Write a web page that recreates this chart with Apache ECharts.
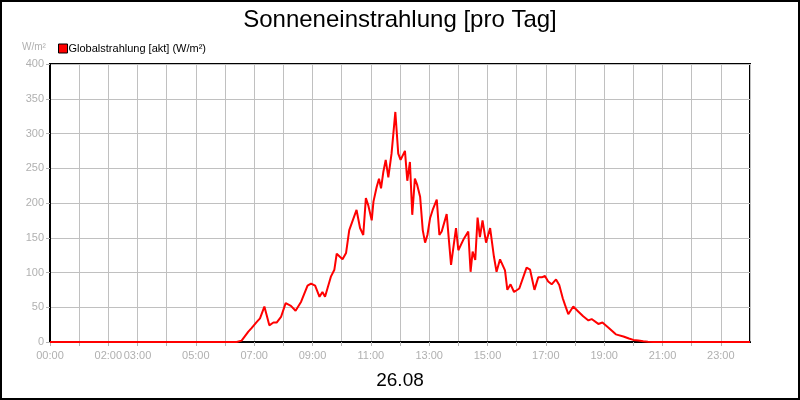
<!DOCTYPE html>
<html>
<head>
<meta charset="utf-8">
<script src="https://cdn.jsdelivr.net/npm/echarts@6/dist/echarts.min.js"></script>
<style>
  html, body { margin: 0; padding: 0; background: #fff; }
  #chart { width: 800px; height: 400px; }
</style>
</head>
<body>
<div id="chart"></div>
<script>
// Uhrzeit in Stunden (dezimal) und Globalstrahlung in W/m²
var hours = [0, 6.4, 6.57, 6.8, 6.91, 7.09, 7.2, 7.35, 7.52, 7.66, 7.77, 7.92, 8.08, 8.26, 8.42, 8.61, 8.83, 8.95,
  9.09, 9.24, 9.34, 9.43, 9.63, 9.75, 9.83, 10.03, 10.15, 10.26, 10.38, 10.51, 10.63, 10.74, 10.83, 10.91,
  11.03, 11.09, 11.2, 11.28, 11.35, 11.43, 11.51, 11.6, 11.71, 11.84, 11.94, 12.02, 12.17, 12.25, 12.34,
  12.42, 12.51, 12.59, 12.69, 12.78, 12.86, 12.94, 13.03, 13.12, 13.18, 13.26, 13.35, 13.43, 13.6, 13.75,
  13.92, 14.0, 14.17, 14.34, 14.42, 14.49, 14.58, 14.66, 14.74, 14.83, 14.95, 15.09, 15.22, 15.31, 15.43,
  15.6, 15.68, 15.79, 15.91, 16.09, 16.34, 16.46, 16.61, 16.74, 16.86, 16.97, 17.08, 17.2, 17.35, 17.46,
  17.58, 17.66, 17.77, 17.94, 18.11, 18.28, 18.46, 18.57, 18.8, 18.94, 19.14, 19.4, 19.66, 19.85, 20.0, 20.17,
  20.34, 20.5, 20.69, 24]
var strahlung = [0, 0, 2, 15, 20, 29, 34, 51, 24, 28, 28, 36, 56, 52, 45, 58, 81, 84,
  81, 65, 72, 65, 94, 104, 127, 119, 128, 161, 175, 190, 164, 154, 207, 197,
  175, 202, 223, 235, 221, 245, 262, 237, 271, 331, 271, 262, 275, 232, 259,
  183, 235, 226, 209, 161, 143, 154, 178, 190, 192, 205, 154, 159, 184, 111,
  164, 132, 147, 159, 101, 130, 118, 179, 151, 175, 143, 164, 123, 101, 119,
  103, 75, 83, 72, 77, 107, 104, 75, 93, 93, 95, 87, 83, 90, 82,
  63, 53, 40, 51, 44, 37, 31, 33, 26, 28, 21, 11, 8, 5, 3, 2,
  1, 0.5, 0, 0]
var xLabels = ['00:00', '02:00', '03:00', '05:00', '07:00', '09:00', '11:00', '13:00', '15:00', '17:00', '19:00', '21:00', '23:00']

var mychart = echarts.init(document.getElementById('chart'))

var pts = hours.map(function (h, i) { return [h, strahlung[i]] })

function hh(v) {
  var s = String(Math.round(v))
  return (s.length < 2 ? '0' + s : s) + ':00'
}

var option = {
  animation: false,
  textStyle: { fontFamily: 'Liberation Sans, Arial, sans-serif' },
  title: {
    text: 'Sonneneinstrahlung [pro Tag]',
    left: 'center',
    top: 3,
    textStyle: { fontSize: 24, fontWeight: 'normal', color: '#000' }
  },
  legend: {
    left: 53,
    top: 38,
    icon: 'rect',
    itemWidth: 9,
    itemHeight: 9,
    itemGap: 4,
    textStyle: { fontSize: 11, color: '#000', padding: [0, 0, 0, -4] },
    data: [{ name: 'Globalstrahlung [akt] (W/m²)', itemStyle: { color: '#ff0000', borderColor: '#000', borderWidth: 1 } }]
  },
  grid: {
    left: 50, right: 50, top: 64, bottom: 58,
    show: true, borderColor: '#000', borderWidth: 2, backgroundColor: 'transparent'
  },
  xAxis: {
    type: 'value',
    min: 0,
    max: 24,
    interval: 1,
    axisLine: { show: true, lineStyle: { color: '#000', width: 2 } },
    axisTick: { show: true, length: 4, lineStyle: { color: '#b4b4b4' } },
    splitLine: { show: true, lineStyle: { color: '#c0c0c0', width: 1 } },
    axisLabel: {
      color: '#b0b0b0', fontSize: 11, margin: 8, showMaxLabel: false,
      formatter: function (v) { var s = hh(v); return xLabels.indexOf(s) >= 0 && v < 24 ? s : '' }
    }
  },
  yAxis: {
    type: 'value',
    min: 0,
    max: 400,
    interval: 50,
    axisLine: { show: true, lineStyle: { color: '#000', width: 2 } },
    axisTick: { show: true, length: 4, lineStyle: { color: '#b4b4b4' } },
    splitLine: { show: true, lineStyle: { color: '#c0c0c0', width: 1 } },
    axisLabel: { color: '#b0b0b0', fontSize: 11, margin: 6 }
  },
  graphic: [
    { type: 'rect', shape: { x: 1, y: 1, width: 798, height: 398 }, style: { fill: 'none', stroke: '#000', lineWidth: 2 }, silent: true, z: 100 },
    { type: 'text', left: 22, top: 42, style: { text: 'W/m²', fill: '#b0b0b0', fontSize: 10, fontFamily: 'Liberation Sans, Arial, sans-serif' } },
    { type: 'text', left: 'center', top: 371, style: { text: '26.08', fill: '#000', fontSize: 19, fontFamily: 'Liberation Sans, Arial, sans-serif' } }
  ],
  series: [
    {
      name: 'Globalstrahlung [akt] (W/m²)',
      type: 'line',
      data: pts,
      showSymbol: false,
      color: '#ff0000',
      lineStyle: { color: '#ff0000', width: 2 },
      z: 3
    }
  ]
}

option && mychart.setOption(option)
</script>
</body>
</html>
